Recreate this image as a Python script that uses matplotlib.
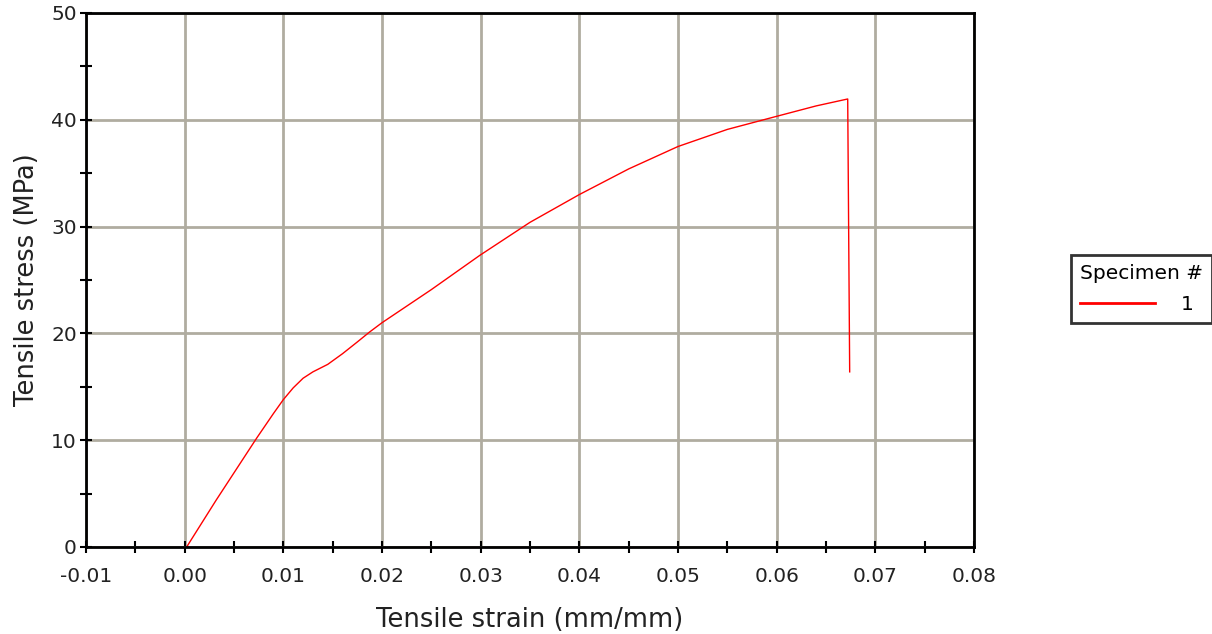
import numpy as np
import matplotlib.pyplot as plt

# Tensile test, specimen 1
strain = [0.0002, 0.0032, 0.0073, 0.0090, 0.0100, 0.0110, 0.0120, 0.0130,
          0.0145, 0.0160, 0.0175, 0.0187, 0.0200, 0.0250, 0.0299, 0.0350,
          0.0400, 0.0450, 0.0500, 0.0550, 0.0603, 0.0640, 0.0672, 0.0674]
stress = [0.0, 4.4, 10.2, 12.5, 13.8, 14.9, 15.8, 16.4,
          17.1, 18.1, 19.2, 20.1, 21.0, 24.1, 27.3, 30.4,
          33.0, 35.4, 37.5, 39.1, 40.4, 41.3, 41.95, 16.4]
specimen = "1"

plt.rcParams['font.family'] = ['DejaVu Sans']
fig = plt.figure(figsize=(12.12, 6.34), dpi=100)
ax = fig.add_axes([86 / 1212, 87 / 634, (974 - 86) / 1212, (547 - 13) / 634])

ax.plot(strain, stress, color='#ff0000', lw=1.0, label=specimen)

ax.set_xlim(-0.01, 0.08)
ax.set_ylim(0, 50)
xt = np.arange(-0.01, 0.0801, 0.01)
ax.set_xticks(xt)
ax.set_xticklabels([f"{v:.2f}" for v in xt])
ax.set_yticks(np.arange(0, 51, 10))
ax.set_xticks(np.arange(-0.005, 0.08, 0.01), minor=True)
ax.set_yticks(np.arange(5, 50, 10), minor=True)
ax.tick_params(which='both', direction='inout', length=9, width=1.5, color='black',
               labelsize=14.5, labelcolor='#222222', pad=2)
ax.tick_params(axis='x', pad=10)
ax.grid(True, which='major', color='#b0aca0', lw=2)
ax.set_axisbelow(True)
for s in ax.spines.values():
    s.set_linewidth(2)
    s.set_color('black')

ax.set_xlabel("Tensile strain (mm/mm)", fontsize=18.5, color='#222222', labelpad=15)
ax.set_ylabel("Tensile stress (MPa)", fontsize=18.5, color='#222222', labelpad=8)

leg = fig.legend(loc='upper left', bbox_to_anchor=(1071 / 1212, 1 - 255 / 634),
                 title="Specimen #", fontsize=14.5, title_fontsize=14.5,
                 frameon=True, fancybox=False, edgecolor='black',
                 handlelength=3.7, borderaxespad=0, borderpad=0.45,
                 handletextpad=1.3, labelspacing=0.6)
leg._legend_box.align = "left"
leg.get_frame().set_linewidth(2)
for h in leg.get_lines():
    h.set_linewidth(2)

fig.savefig("out.png", dpi=100)
